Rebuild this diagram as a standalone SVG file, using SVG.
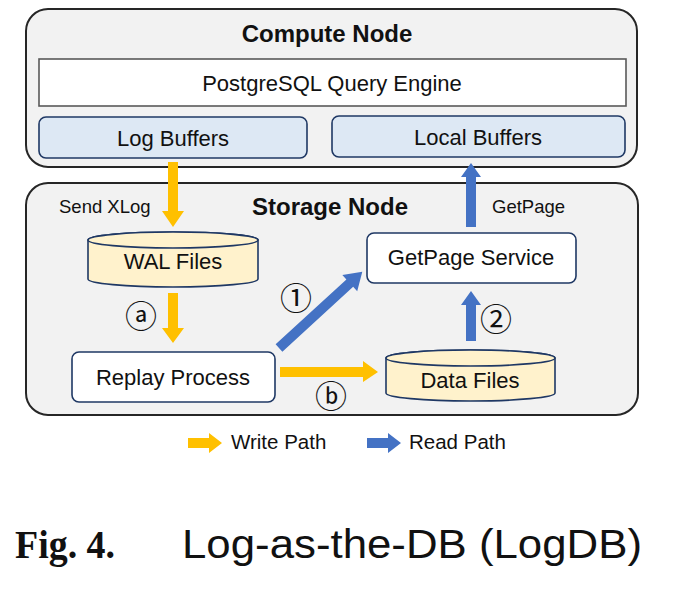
<svg xmlns="http://www.w3.org/2000/svg" width="694" height="594" viewBox="0 0 694 594">
<style>
text{font-family:"Liberation Sans",Arial,sans-serif;fill:#111}
.outer{fill:#f2f2f2;stroke:#262626;stroke-width:2}
.buf{fill:#dde8f4;stroke:#1f3864;stroke-width:1.6}
.box{fill:#fff;stroke:#1f3864;stroke-width:1.6}
.cyl{fill:#fff2cc;stroke:#1f3864;stroke-width:1.6}
.lbl{font-size:22px;text-anchor:middle}
.title{font-size:24px;font-weight:bold;text-anchor:middle}
.small{font-size:18.5px}
.circ{font-family:"Noto Sans CJK JP","DejaVu Sans",sans-serif;font-size:32px;text-anchor:middle}
.w{fill:#ffc000}
.r{fill:#4472c4}
</style>
<rect width="694" height="594" fill="#fff"/>
<g id="compute-node">
<rect class="outer" x="26" y="9" width="611" height="158" rx="22"/>
<text class="title" x="327" y="42">Compute Node</text>
</g>
<g id="query-engine">
<rect x="39" y="59" width="587" height="47" fill="#fff" stroke="#595959" stroke-width="1.6"/>
<text class="lbl" x="332" y="91">PostgreSQL Query Engine</text>
</g>
<g id="log-buffers">
<rect class="buf" x="39" y="117" width="268" height="41" rx="7"/>
<text class="lbl" x="173" y="146">Log Buffers</text>
</g>
<g id="local-buffers">
<rect class="buf" x="332" y="116" width="293" height="41" rx="7"/>
<text class="lbl" x="478" y="145">Local Buffers</text>
</g>
<g id="storage-node">
<rect class="outer" x="26" y="183" width="612" height="232" rx="22"/>
<text class="title" x="330" y="215">Storage Node</text>
</g>
<g id="wal-files">
<path class="cyl" d="M88,240 A85,8 0 0 1 258,240 V279 A85,8 0 0 1 88,279 Z"/>
<ellipse class="cyl" cx="173" cy="240" rx="85" ry="8"/>
<text class="lbl" x="173" y="269">WAL Files</text>
</g>
<g id="replay-process">
<rect class="box" x="72" y="352" width="203" height="50" rx="7"/>
<text class="lbl" x="173" y="385">Replay Process</text>
</g>
<g id="getpage-service">
<rect class="box" x="367" y="233" width="209" height="50" rx="7"/>
<text class="lbl" x="471" y="265">GetPage Service</text>
</g>
<g id="data-files">
<path class="cyl" d="M386,358 A84.5,8 0 0 1 555,358 V393 A84.5,8 0 0 1 386,393 Z"/>
<ellipse class="cyl" cx="470.5" cy="358" rx="84.5" ry="8"/>
<text class="lbl" x="470" y="388">Data Files</text>
</g>
<g id="connectors">
<polygon class="w" points="168,162 178,162 178,211 184,211 173,227 162,211 168,211"/>
<polygon class="w" points="168,293 178,293 178,328 184,328 173,343 162,328 168,328"/>
<polygon class="w" points="280,367 363,367 363,361 378,372 363,382 363,377 280,377"/>
<polygon class="r" points="466,227 466,177 461,177 471,163 481,177 476,177 476,227"/>
<polygon class="r" points="466,341 466,305 461,305 471,291 481,305 476,305 476,341"/>
<polygon class="r" transform="translate(279,348) rotate(-42.5)" points="0,-5 96,-5 96,-11 113,0 96,11 96,5 0,5"/>
<text class="small" x="59" y="213">Send XLog</text>
<text class="small" x="492" y="213">GetPage</text>
<text class="circ" x="141" y="327.5">ⓐ</text>
<text class="circ" x="296" y="309.5">①</text>
<text class="circ" x="496" y="330.5">②</text>
<text class="circ" x="331" y="407.5">ⓑ</text>
</g>
<g id="legend">
<polygon class="w" points="188,438 209,438 209,433 222,443 209,453 209,448 188,448"/>
<text x="231" y="449" style="font-size:20.5px">Write Path</text>
<polygon class="r" points="367,438 388,438 388,433 401,443 388,453 388,448 367,448"/>
<text x="409" y="449" style="font-size:20.5px">Read Path</text>
</g>
<g id="caption">
<text x="15" y="558" textLength="100" lengthAdjust="spacingAndGlyphs" style="font-family:'Liberation Serif',serif;font-weight:bold;font-size:41px">Fig. 4.</text>
<text x="182" y="558" textLength="460" lengthAdjust="spacingAndGlyphs" style="font-size:40px">Log-as-the-DB (LogDB)</text>
</g>
</svg>
